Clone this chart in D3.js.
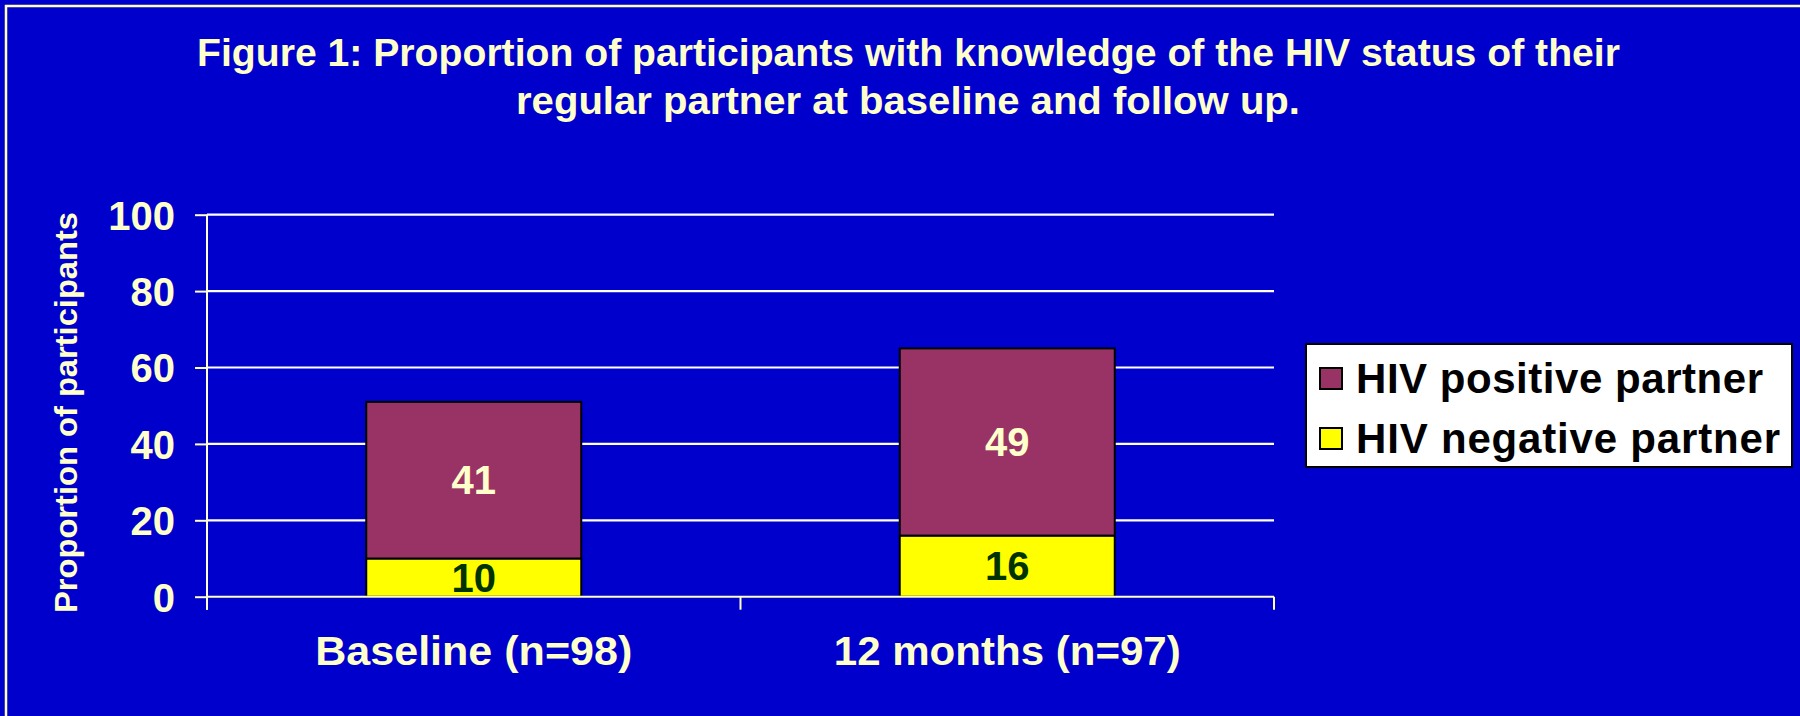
<!DOCTYPE html>
<html>
<head>
<meta charset="utf-8">
<script src="https://cdn.jsdelivr.net/npm/d3@7"></script>
<style>
  html, body { margin: 0; padding: 0; background: #0000CC; }
  svg { display: block; }
  text { font-family: "Liberation Sans", Arial, sans-serif; font-weight: bold; }
</style>
</head>
<body>
<svg id="chart" width="1800" height="716"></svg>
<script>
// ---- data ----
const categories = ["Baseline (n=98)", "12 months (n=97)"];
const negativeValues = [10, 16];
const positiveValues = [41, 49];
const seriesNames = ["HIV positive partner", "HIV negative partner"];
const yTicks = [0, 20, 40, 60, 80, 100];
const titleLines = [
  "Figure 1: Proportion of participants with knowledge of the HIV status of their",
  "regular partner at baseline and follow up."
];
const yAxisTitle = "Proportion of participants";

// ---- style ----
const BG = "#0000CC", CREAM = "#FFFFCC", PURPLE = "#993366", YELLOW = "#FFFF00", DKGREEN = "#003300";

const svg = d3.select("#chart");
svg.append("rect").attr("width", 1800).attr("height", 716).attr("fill", BG);
// frame
svg.append("rect").attr("x", 6).attr("y", 6).attr("width", 1830).attr("height", 760)
  .attr("fill", "none").attr("stroke", CREAM).attr("stroke-width", 2.5);

// title
const titleSpec = [{x: 197, y: 66, len: 1423}, {x: 516, y: 114, len: 784}];
svg.selectAll("text.title").data(titleLines).join("text")
  .attr("class", "title")
  .attr("x", (d, i) => titleSpec[i].x)
  .attr("y", (d, i) => titleSpec[i].y)
  .attr("textLength", (d, i) => titleSpec[i].len)
  .attr("lengthAdjust", "spacingAndGlyphs")
  .attr("font-size", 39).attr("fill", CREAM)
  .text(d => d);

// scales
const x0 = 207, x1 = 1274;
const x = d3.scaleBand().domain(categories).range([x0, x1]).paddingInner(0.597).paddingOuter(0.2985);
const y = d3.scaleLinear().domain([0, 100]).range([596.7, 214.7]);

// gridlines
svg.append("g").selectAll("line").data(yTicks.filter(t => t > 0)).join("line")
  .attr("x1", x0).attr("x2", x1)
  .attr("y1", d => y(d)).attr("y2", d => y(d))
  .attr("stroke", "#FFFFFF").attr("stroke-width", 2.2);

// y axis
const yAxis = d3.axisLeft(y).tickValues(yTicks).tickSize(12).tickPadding(20);
const gy = svg.append("g").attr("transform", `translate(${x0},0)`).call(yAxis);
gy.select(".domain").remove();
gy.selectAll(".tick line").attr("stroke", CREAM).attr("stroke-width", 2);
gy.selectAll(".tick text").attr("fill", CREAM).attr("font-size", 40)
  .attr("font-family", "Liberation Sans, Arial, sans-serif").attr("font-weight", "bold")
  .attr("dy", "0.36em").attr("x", -32);
svg.append("line").attr("x1", x0).attr("x2", x0).attr("y1", y(100)).attr("y2", y(0) + 13)
  .attr("stroke", CREAM).attr("stroke-width", 2);

// bars
const stackData = categories.map((c, i) => ({cat: c, neg: negativeValues[i], pos: positiveValues[i]}));
const g = svg.append("g");
g.selectAll("rect.neg").data(stackData).join("rect")
  .attr("x", d => x(d.cat)).attr("width", x.bandwidth())
  .attr("y", d => y(d.neg)).attr("height", d => y(0) - y(d.neg))
  .attr("fill", YELLOW).attr("stroke", "#000").attr("stroke-width", 2);
g.selectAll("rect.pos").data(stackData).join("rect")
  .attr("x", d => x(d.cat)).attr("width", x.bandwidth())
  .attr("y", d => y(d.neg + d.pos)).attr("height", d => y(d.neg) - y(d.neg + d.pos))
  .attr("fill", PURPLE).attr("stroke", "#000").attr("stroke-width", 2);

// x axis
svg.append("line").attr("x1", x0).attr("x2", x1).attr("y1", y(0)).attr("y2", y(0))
  .attr("stroke", CREAM).attr("stroke-width", 2);
const xTickPos = [x0].concat(categories.map(c => x(c) - x.step() * x.paddingInner() / 2).slice(1)).concat([x1]);
svg.append("g").selectAll("line").data(xTickPos).join("line")
  .attr("x1", d => d).attr("x2", d => d).attr("y1", y(0)).attr("y2", y(0) + 13)
  .attr("stroke", CREAM).attr("stroke-width", 2);

// segment labels
g.selectAll("text.neg").data(stackData).join("text")
  .attr("x", d => x(d.cat) + x.bandwidth() / 2)
  .attr("y", d => (y(0) + y(d.neg)) / 2 + 14)
  .attr("text-anchor", "middle").attr("font-size", 40).attr("fill", DKGREEN)
  .text(d => d.neg);
g.selectAll("text.pos").data(stackData).join("text")
  .attr("x", d => x(d.cat) + x.bandwidth() / 2)
  .attr("y", d => (y(d.neg) + y(d.neg + d.pos)) / 2 + 14)
  .attr("text-anchor", "middle").attr("font-size", 40).attr("fill", CREAM)
  .text(d => d.pos);

// category labels
const catLen = [317, 347];
svg.selectAll("text.cat").data(categories).join("text")
  .attr("x", d => x(d) + x.bandwidth() / 2)
  .attr("y", 665)
  .attr("text-anchor", "middle")
  .attr("textLength", (d, i) => catLen[i]).attr("lengthAdjust", "spacingAndGlyphs")
  .attr("font-size", 40).attr("fill", CREAM)
  .text(d => d);

// y axis title
svg.append("text")
  .attr("transform", "translate(77,412.5) rotate(-90)")
  .attr("text-anchor", "middle")
  .attr("textLength", 401).attr("lengthAdjust", "spacingAndGlyphs")
  .attr("font-size", 31).attr("fill", CREAM)
  .text(yAxisTitle);

// legend
const legend = svg.append("g");
legend.append("rect").attr("x", 1306).attr("y", 344).attr("width", 486).attr("height", 123)
  .attr("fill", "#FFFFFF").attr("stroke", "#000").attr("stroke-width", 2);
const legendColors = [PURPLE, YELLOW];
const legendY = [393, 453];
const legendLen = [407, 424];
legend.selectAll("rect.sw").data(seriesNames).join("rect")
  .attr("class", "sw")
  .attr("x", 1320).attr("y", (d, i) => legendY[i] - 25).attr("width", 22).attr("height", 21)
  .attr("fill", (d, i) => legendColors[i]).attr("stroke", "#000").attr("stroke-width", 2);
legend.selectAll("text").data(seriesNames).join("text")
  .attr("x", 1356).attr("y", (d, i) => legendY[i])
  .attr("textLength", (d, i) => legendLen[i]).attr("lengthAdjust", "spacing")
  .attr("font-size", 42).attr("fill", "#000")
  .text(d => d);
</script>
</body>
</html>
